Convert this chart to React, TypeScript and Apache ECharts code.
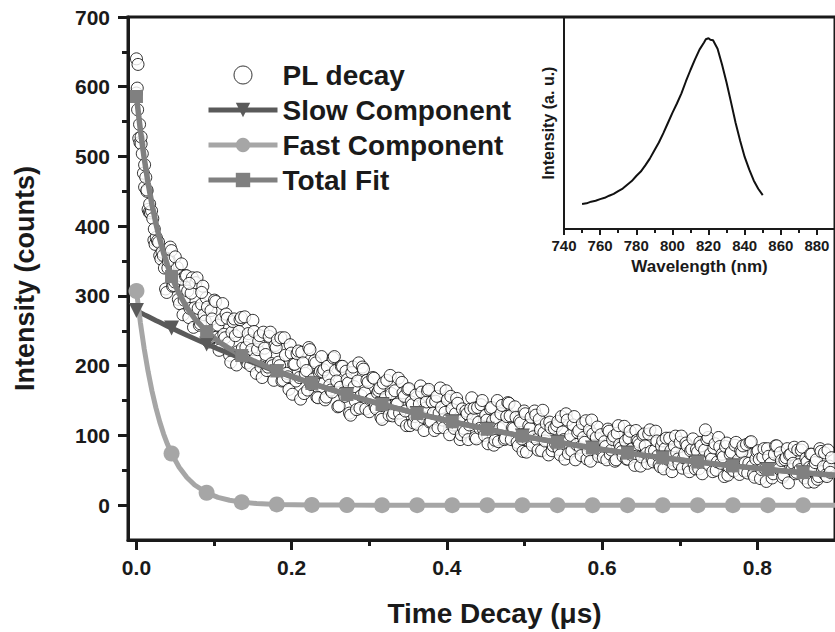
import React, { useEffect, useRef } from "react";
import * as echarts from "echarts";

const FONT = "'Liberation Sans', Arial, Helvetica, sans-serif";
const INK = "#1a1a1a";

const X_LABELS = [0, 0.2, 0.4, 0.6, 0.8];
const X_MINOR = [0.1, 0.3, 0.5, 0.7];
const Y_LABELS = [0, 100, 200, 300, 400, 500, 600, 700];
const Y_MINOR = [50, 150, 250, 350, 450, 550, 650];

// PL decay counts, one every PL_STEP microseconds starting at t = 0
const PL_STEP = 0.003;
const PL_COUNTS = [
  591, 526, 518, 476, 470, 424, 419, 411, 374, 379, 358, 363, 340, 305, 352, 365, 315, 330, 295, 329,
  273, 329, 307, 282, 326, 283, 326, 258, 288, 273, 297, 234, 279, 241, 292, 258, 240, 289, 240, 268,
  215, 248, 267, 201, 249, 269, 213, 226, 246, 200, 265, 210, 223, 243, 183, 225, 193, 242, 203, 179,
  226, 205, 240, 179, 215, 184, 230, 159, 202, 217, 183, 219, 160, 193, 226, 173, 181, 204, 154, 192,
  191, 151, 199, 172, 162, 213, 178, 142, 199, 161, 192, 175, 129, 198, 149, 178, 139, 198, 161, 179,
  134, 152, 182, 138, 164, 126, 175, 155, 142, 186, 128, 164, 145, 132, 176, 156, 114, 167, 148, 118,
  158, 132, 171, 126, 139, 164, 119, 148, 107, 156, 132, 140, 111, 164, 123, 156, 115, 131, 146, 94,
  138, 105, 131, 115, 154, 139, 95, 119, 144, 109, 129, 88, 138, 121, 93, 150, 110, 143, 94, 127,
  146, 94, 110, 126, 85, 118, 77, 131, 101, 110, 86, 135, 94, 123, 78, 104, 117, 72, 111, 85,
  88, 120, 72, 105, 66, 122, 94, 78, 127, 87, 107, 71, 97, 121, 78, 63, 102, 86, 112, 80,
  77, 91, 65, 106, 79, 99, 65, 114, 82, 70, 92, 66, 106, 81, 57, 93, 87, 69, 102, 74,
  102, 77, 62, 106, 71, 55, 92, 81, 66, 96, 48, 85, 75, 59, 99, 68, 89, 54, 78, 95,
  52, 76, 90, 45, 79, 94, 57, 66, 82, 50, 97, 60, 69, 84, 43, 73, 51, 86, 61, 44,
  76, 49, 87, 60, 91, 44, 66, 78, 38, 69, 52, 81, 58, 39, 73, 85, 52, 64, 43, 68,
  32, 73, 60, 45, 79, 51, 83, 39, 62, 54, 73, 33, 65, 41, 77, 55, 43, 79, 47,
];
// interleaved channel, starting at PL_OFFSET_B
const PL_OFFSET_B = 0.0015;
const PL_COUNTS_B = [
  567, 520, 504, 456, 450, 420, 422, 380, 384, 377, 353, 358, 310, 340, 370, 314, 320, 341, 289, 324,
  294, 329, 269, 304, 255, 319, 282, 260, 314, 264, 284, 239, 267, 294, 241, 222, 266, 245, 274, 233,
  205, 263, 243, 220, 266, 225, 270, 204, 236, 223, 249, 189, 235, 198, 248, 216, 198, 248, 200, 229,
  237, 200, 178, 240, 189, 166, 218, 202, 178, 221, 152, 204, 189, 165, 223, 177, 207, 155, 190, 213,
  194, 155, 185, 165, 211, 193, 141, 169, 199, 156, 180, 132, 190, 170, 137, 204, 157, 195, 138, 176,
  151, 183, 141, 161, 168, 123, 151, 179, 129, 160, 132, 144, 182, 122, 161, 135, 166, 114, 144, 127,
  116, 145, 162, 107, 148, 166, 120, 132, 149, 111, 168, 122, 133, 151, 101, 138, 110, 153, 121, 101,
  110, 135, 94, 138, 124, 97, 140, 110, 150, 100, 122, 112, 140, 86, 125, 91, 131, 113, 96, 147,
  128, 111, 141, 90, 121, 95, 135, 76, 114, 126, 98, 129, 79, 108, 136, 92, 99, 119, 78, 110,
  114, 80, 127, 94, 131, 74, 100, 115, 65, 104, 83, 117, 90, 66, 108, 122, 82, 97, 70, 101,
  68, 84, 109, 73, 94, 63, 103, 87, 77, 113, 66, 96, 80, 70, 107, 91, 56, 100, 85, 60,
  108, 66, 78, 92, 58, 85, 52, 96, 72, 78, 59, 99, 66, 90, 53, 74, 85, 48, 80, 59,
  80, 52, 85, 68, 61, 97, 73, 48, 88, 62, 84, 73, 41, 89, 55, 76, 49, 90, 65, 78,
  85, 61, 46, 90, 56, 40, 76, 66, 51, 81, 34, 70, 60, 45, 85, 54, 75, 40, 65, 81,
  72, 51, 83, 47, 58, 79, 43, 67, 33, 73, 54, 61, 37, 81, 48, 75, 41, 56, 68,
];
const PL_EXTRA_TIMES = [0.0, 0.001, 0.002, 0.004, 0.006, 0.0105, 0.0135, 0.017, 0.023, 0.041, 0.05, 0.058, 0.068, 0.084, 0.733];
const PL_EXTRA_COUNTS = [640, 598, 632, 546, 528, 488, 452, 432, 396, 350, 356, 346, 318, 305, 108];

// fitted curves
const FIT_TIMES = [
  0, 0.005, 0.01, 0.015, 0.02, 0.025, 0.03, 0.035, 0.04, 0.0452, 0.055, 0.065, 0.075, 0.0904, 0.105, 0.12,
  0.1356, 0.155, 0.1808, 0.226, 0.2712, 0.3164, 0.3616, 0.4068, 0.452, 0.4972, 0.5424, 0.5876, 0.6328,
  0.678, 0.7232, 0.7684, 0.8136, 0.8588, 0.9,
];
const MARKER_TIMES = [
  0, 0.0452, 0.0904, 0.1356, 0.1808, 0.226, 0.2712, 0.3164, 0.3616, 0.4068, 0.452, 0.4972, 0.5424, 0.5876,
  0.6328, 0.678, 0.7232, 0.7684, 0.8136, 0.8588,
];
const SLOW_FIT = [
  279, 276.1, 273.2, 270.4, 267.6, 264.8, 262.1, 259.4, 256.7, 253.9, 248.8, 243.6, 238.7, 231.1, 224.0, 217.3,
  210.3, 202.6, 191.4, 174.2, 158.5, 144.3, 131.3, 119.5, 108.8, 99.0, 90.1, 82.0, 74.6, 67.9, 61.8, 56.3, 51.2,
  46.6, 42.8,
];
const FAST_FIT = [
  307, 262.2, 224, 191.5, 163.6, 139.8, 119.4, 102, 87.2, 74, 54.3, 39.6, 28.9, 17.8, 11.1, 7.0, 4.3, 2.3, 1.0,
  0.3, 0.1, 0, 0, 0, 0, 0, 0, 0, 0, 0, 0, 0, 0, 0, 0,
];
const TOTAL_FIT = [
  586, 538.3, 497.2, 461.9, 431.2, 404.6, 381.5, 361.4, 343.9, 327.9, 303.1, 283.2, 267.6, 248.9, 235.1, 224.3,
  214.6, 204.9, 192.4, 174.5, 158.6, 144.3, 131.3, 119.5, 108.8, 99.0, 90.1, 82.0, 74.6, 67.9, 61.8, 56.3, 51.2,
  46.6, 42.8,
];

// inset: PL spectrum
const INSET_WAVELENGTHS = [
  750, 752.5, 755, 757.5, 760, 762.5, 765, 767.5, 770, 772.5, 775, 777.5, 780, 782.5, 785, 787.5, 790, 792.5,
  795, 797.5, 800, 802.5, 805, 807.5, 810, 812.5, 815, 817.5, 818.5, 820, 821, 822.5, 825, 827.5, 830, 832.5,
  835, 837.5, 840, 842.5, 845, 847.5, 850,
];
const INSET_INTENSITY = [
  0.118, 0.121, 0.129, 0.133, 0.141, 0.147, 0.157, 0.166, 0.179, 0.191, 0.209, 0.226, 0.25, 0.271, 0.3, 0.332,
  0.37, 0.408, 0.452, 0.5, 0.548, 0.592, 0.64, 0.697, 0.75, 0.8, 0.846, 0.88, 0.895, 0.9, 0.893, 0.89, 0.85,
  0.775, 0.69, 0.596, 0.5, 0.416, 0.34, 0.281, 0.229, 0.19, 0.16,
];

const isMarker = (t: number) => MARKER_TIMES.some((m) => Math.abs(m - t) < 1e-6);

function fitData(values: number[]) {
  return FIT_TIMES.map((t, i) =>
    isMarker(t) ? { value: [t, values[i]] } : { value: [t, values[i]], symbol: "none" }
  );
}

export default function App() {
  const ref = useRef<HTMLDivElement>(null);

  useEffect(() => {
    const el = ref.current;
    if (!el) return;
    const chart = echarts.init(el, undefined, { renderer: "svg" });

    const plData: number[][] = [];
    PL_COUNTS.forEach((v, i) => {
      plData.push([i * PL_STEP, v]);
      if (i < PL_COUNTS_B.length) plData.push([PL_OFFSET_B + i * PL_STEP, PL_COUNTS_B[i]]);
    });
    PL_EXTRA_TIMES.forEach((t, i) => plData.push([t, PL_EXTRA_COUNTS[i]]));

    const xMin = -0.0109;
    const xMax = 0.9;
    const tickLine = { color: INK, width: 3 };
    const bold = { fontFamily: FONT, fontWeight: "bold" as const, color: INK };

    chart.setOption({
      animation: false,
      backgroundColor: "#ffffff",
      textStyle: { fontFamily: FONT },
      grid: [
        { left: 128, top: 17, right: -3, bottom: 92, show: true, borderColor: INK, borderWidth: 3, backgroundColor: "transparent" },
        { left: 564, top: 17, right: -3, bottom: 403 },
      ],
      legend: {
        orient: "vertical",
        left: 206,
        top: 61,
        padding: 0,
        itemWidth: 69,
        itemHeight: 18,
        itemGap: 7,
        textStyle: { ...bold, fontSize: 28 },
        lineStyle: { width: 5 },
        data: [
          { name: "PL decay", itemStyle: { color: "#ffffff", borderColor: "#000000", borderWidth: 1 } },
          "Slow Component",
          "Fast Component",
          "Total Fit",
        ],
      },
      xAxis: [
        {
          type: "value",
          gridIndex: 0,
          position: "bottom",
          min: xMin,
          max: xMax,
          splitLine: { show: false },
          axisLine: { show: true, onZero: false, lineStyle: tickLine },
          axisTick: { show: true, customValues: X_LABELS, length: 10, lineStyle: tickLine },
          axisLabel: {
            customValues: X_LABELS,
            formatter: (v: number) => v.toFixed(1),
            fontSize: 21,
            margin: 17,
            ...bold,
          },
          name: "Time Decay (μs)",
          nameLocation: "middle",
          nameGap: 59,
          nameTextStyle: { ...bold, fontSize: 28, padding: [0, 0, 0, 26] },
        },
        {
          type: "value",
          gridIndex: 0,
          position: "bottom",
          min: xMin,
          max: xMax,
          splitLine: { show: false },
          axisLine: { show: false, onZero: false },
          axisLabel: { show: false },
          axisTick: { show: true, customValues: X_MINOR, length: 6, lineStyle: tickLine },
        },
        {
          type: "value",
          gridIndex: 1,
          position: "bottom",
          min: 740,
          max: 890,
          interval: 20,
          splitLine: { show: false },
          axisLine: { show: true, onZero: false, lineStyle: { color: INK, width: 2 } },
          axisTick: { show: true, length: 6, lineStyle: { color: INK, width: 2 } },
          minorTick: { show: true, splitNumber: 2, length: 4, lineStyle: { color: INK, width: 2 } },
          axisLabel: { fontSize: 15, margin: 9, showMaxLabel: false, ...bold },
          name: "Wavelength (nm)",
          nameLocation: "middle",
          nameGap: 29,
          nameTextStyle: { ...bold, fontSize: 17 },
        },
      ],
      yAxis: [
        {
          type: "value",
          gridIndex: 0,
          position: "left",
          min: -50,
          max: 700,
          splitLine: { show: false },
          axisLine: { show: true, onZero: false, lineStyle: tickLine },
          axisTick: { show: true, customValues: Y_LABELS, length: 10, lineStyle: tickLine },
          axisLabel: { customValues: Y_LABELS, fontSize: 21, margin: 18, ...bold },
          name: "Intensity (counts)",
          nameLocation: "middle",
          nameRotate: 90,
          nameGap: 90,
          nameTextStyle: { ...bold, fontSize: 27 },
        },
        {
          type: "value",
          gridIndex: 0,
          position: "left",
          min: -50,
          max: 700,
          splitLine: { show: false },
          axisLine: { show: false, onZero: false },
          axisLabel: { show: false },
          axisTick: { show: true, customValues: Y_MINOR, length: 6, lineStyle: tickLine },
        },
        {
          type: "value",
          gridIndex: 1,
          position: "left",
          min: 0,
          max: 1,
          splitLine: { show: false },
          axisLine: { show: true, onZero: false, lineStyle: { color: INK, width: 2 } },
          axisTick: { show: false },
          axisLabel: { show: false },
          name: "Intensity (a. u.)",
          nameLocation: "middle",
          nameRotate: 90,
          nameGap: 8,
          nameTextStyle: { ...bold, fontSize: 16 },
        },
      ],
      series: [
        {
          name: "PL decay",
          type: "scatter",
          xAxisIndex: 0,
          yAxisIndex: 0,
          data: plData,
          symbol: "circle",
          symbolSize: 12,
          itemStyle: { color: "#ffffff", borderColor: "#000000", borderWidth: 1 },
        },
        {
          name: "Slow Component",
          type: "line",
          xAxisIndex: 0,
          yAxisIndex: 0,
          data: fitData(SLOW_FIT),
          symbol: "triangle",
          symbolRotate: 180,
          symbolSize: 15,
          showAllSymbol: true,
          lineStyle: { color: "#5a5a5a", width: 5 },
          itemStyle: { color: "#5a5a5a" },
        },
        {
          name: "Fast Component",
          type: "line",
          xAxisIndex: 0,
          yAxisIndex: 0,
          data: fitData(FAST_FIT),
          symbol: "circle",
          symbolSize: 16,
          showAllSymbol: true,
          lineStyle: { color: "#a6a6a6", width: 5 },
          itemStyle: { color: "#a6a6a6" },
        },
        {
          name: "Total Fit",
          type: "line",
          xAxisIndex: 0,
          yAxisIndex: 0,
          data: fitData(TOTAL_FIT),
          symbol: "rect",
          symbolSize: 13,
          showAllSymbol: true,
          lineStyle: { color: "#808080", width: 5.5 },
          itemStyle: { color: "#808080" },
        },
        {
          name: "Spectrum",
          type: "line",
          xAxisIndex: 2,
          yAxisIndex: 2,
          data: INSET_WAVELENGTHS.map((w, i) => [w, INSET_INTENSITY[i]]),
          symbol: "none",
          lineStyle: { color: "#111111", width: 2 },
        },
      ],
    });

    return () => chart.dispose();
  }, []);

  return (
    <div
      ref={ref}
      style={{ position: "fixed", left: 0, top: 0, width: 835, height: 632, background: "#ffffff" }}
    />
  );
}
